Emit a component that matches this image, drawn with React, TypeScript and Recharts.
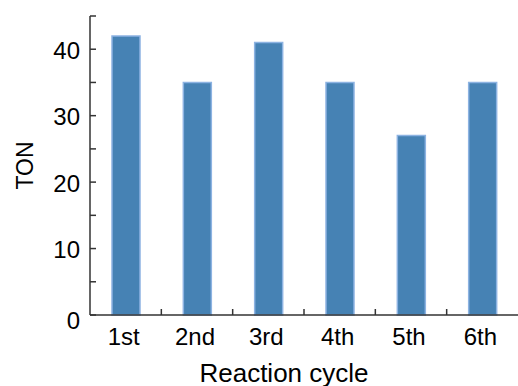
import React from 'react';
import { BarChart, Bar, XAxis, YAxis } from 'recharts';

const categories = ['1st', '2nd', '3rd', '4th', '5th', '6th'];
const tonValues = [42, 35, 41, 35, 27, 35];
const yTicks = [0, 5, 10, 15, 20, 25, 30, 35, 40, 45];
const yLabeled = [0, 10, 20, 30, 40];

const data = categories.map((c, i) => ({ cycle: c, ton: tonValues[i] }));

const AXIS = '#333333';
const FONT = 'Arial, "Liberation Sans", sans-serif';
const X_TICK_MARGIN = 13;

const XTick = (props: any) => {
  const { x, y, payload, index, visibleTicksCount } = props;
  const off = payload && typeof payload.offset === 'number' ? payload.offset : 0;
  const axisY = y - X_TICK_MARGIN;
  return (
    <g>
      {index < visibleTicksCount - 1 && (
        <line x1={x + off} x2={x + off} y1={axisY} y2={axisY - 6} stroke={AXIS} strokeWidth={1.5} />
      )}
      <text x={x - 2} y={y} dy="0.71em" textAnchor="middle" fill="#000" fontSize={24} fontFamily={FONT}>
        {payload.value}
      </text>
    </g>
  );
};

const YTick = (props: any) => {
  const { x, y, payload } = props;
  if (!yLabeled.includes(payload.value)) return <g />;
  const shift = payload.value === 0 ? 5 : 1;
  return (
    <text x={x} y={y + shift} dy="0.355em" textAnchor="end" fill="#000" fontSize={24} fontFamily={FONT}>
      {payload.value}
    </text>
  );
};

export default function App() {
  return (
    <div style={{ position: 'absolute', left: 0, top: 0, background: '#fff' }}>
      <BarChart
        width={518}
        height={386}
        data={data}
        margin={{ top: 16, right: 0, bottom: 0, left: 0 }}
        barSize={28}
      >
        <XAxis
          dataKey="cycle"
          height={71}
          axisLine={{ stroke: AXIS, strokeWidth: 1.5 }}
          tickLine={false}
          tickSize={0}
          tickMargin={X_TICK_MARGIN}
          tick={<XTick />}
          interval={0}
          label={{
            value: 'Reaction cycle',
            position: 'insideBottom',
            offset: 4,
            dx: -20,
            style: { fontSize: 26, fontFamily: FONT, fill: '#000' },
          }}
        />
        <YAxis
          width={90}
          domain={[0, 45]}
          ticks={yTicks}
          interval={0}
          axisLine={{ stroke: AXIS, strokeWidth: 1.5 }}
          tickLine={{ stroke: AXIS, strokeWidth: 1.5 }}
          tickSize={-6}
          tickMargin={16}
          tick={<YTick />}
          label={{
            value: 'TON',
            angle: -90,
            position: 'center',
            dx: -20,
            style: { fontSize: 23, fontFamily: FONT, fill: '#000', textAnchor: 'middle' },
          }}
        />
        <Bar
          dataKey="ton"
          fill="#4682B4"
          stroke="#8DB3E2"
          strokeWidth={1.5}
          isAnimationActive={false}
        />
      </BarChart>
    </div>
  );
}
